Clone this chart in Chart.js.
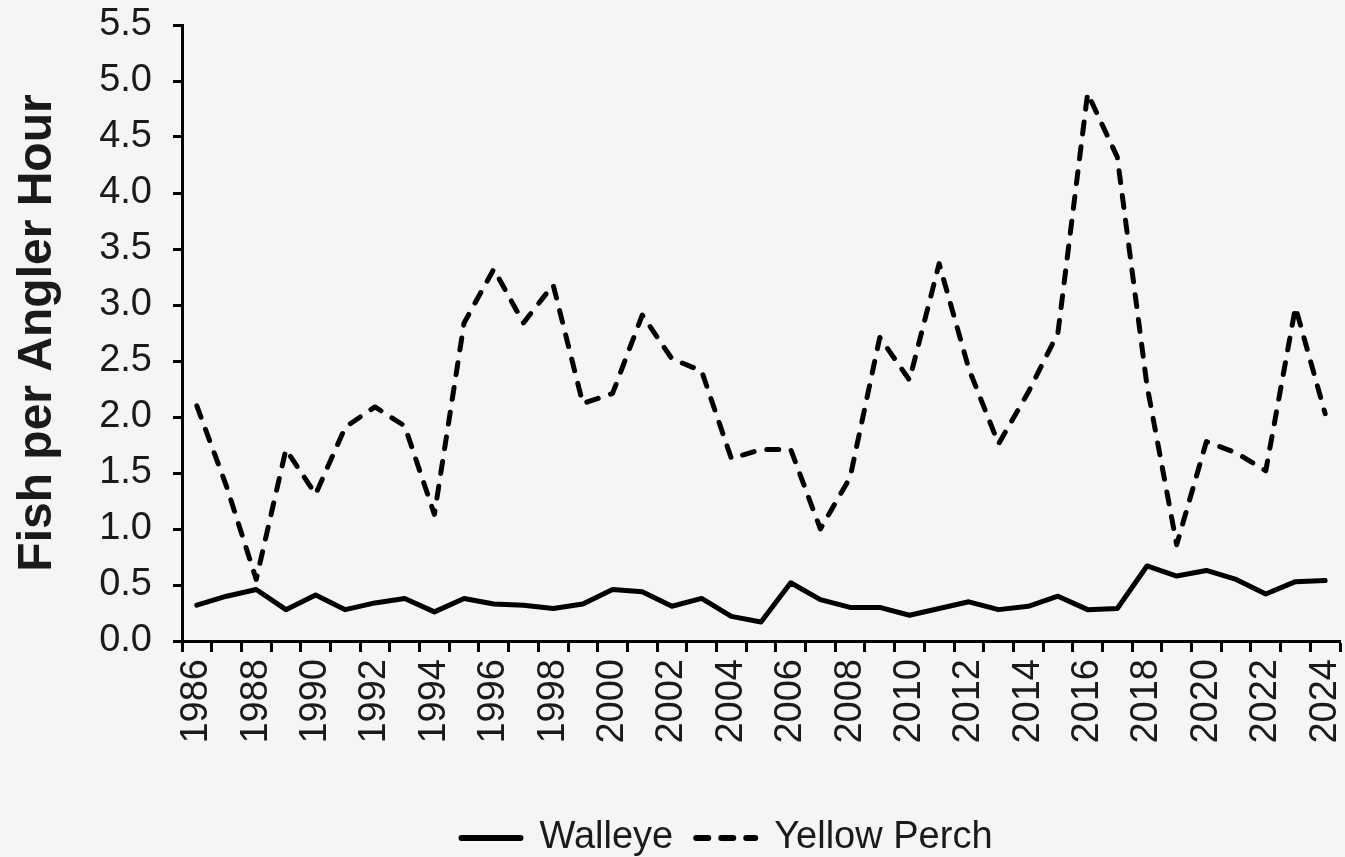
<!DOCTYPE html>
<html>
<head>
<meta charset="utf-8">
<script src="https://cdn.jsdelivr.net/npm/chart.js@4"></script>
<style>
  html, body { margin: 0; padding: 0; background: #f5f5f5; }
  #wrap { width: 1345px; height: 857px; }
</style>
</head>
<body>
<div id="wrap"><canvas id="c" width="1345" height="857"></canvas></div>
<script>
const years = [1986,1987,1988,1989,1990,1991,1992,1993,1994,1995,1996,1997,1998,1999,2000,2001,2002,2003,2004,2005,2006,2007,2008,2009,2010,2011,2012,2013,2014,2015,2016,2017,2018,2019,2020,2021,2022,2023,2024];
const walleye = [0.32,0.40,0.46,0.28,0.41,0.28,0.34,0.38,0.26,0.38,0.33,0.32,0.29,0.33,0.46,0.44,0.31,0.38,0.22,0.17,0.52,0.37,0.30,0.30,0.23,0.29,0.35,0.28,0.31,0.40,0.28,0.29,0.67,0.58,0.63,0.55,0.42,0.53,0.54];
const yellowPerch = [2.10,1.38,0.55,1.71,1.31,1.91,2.09,1.92,1.13,2.84,3.32,2.84,3.18,2.12,2.21,2.91,2.52,2.41,1.63,1.71,1.71,1.00,1.46,2.71,2.33,3.37,2.43,1.76,2.22,2.75,4.89,4.32,2.28,0.86,1.78,1.68,1.52,2.98,2.03];
const yTicks = [0,0.5,1,1.5,2,2.5,3,3.5,4,4.5,5,5.5];
const seriesNames = ['Walleye','Yellow Perch'];
const yTitle = 'Fish per Angler Hour';

const FONT = '"Liberation Sans", Arial, sans-serif';
const TXT = '#1a1a1a';

const legendShift = {
  id: 'legendShift',
  afterLayout(chart) {
    if (chart.legend) { chart.legend.left -= 34; chart.legend.right -= 34; }
  }
};

new Chart(document.getElementById('c'), {
  type: 'line',
  plugins: [legendShift],
  data: {
    labels: years.map(String),
    datasets: [
      { label: seriesNames[0], data: walleye, borderColor: '#000', backgroundColor: '#000',
        borderWidth: 5, pointRadius: 0, tension: 0, borderCapStyle: 'round', borderJoinStyle: 'round' },
      { label: seriesNames[1], data: yellowPerch, borderColor: '#000', backgroundColor: '#000',
        borderWidth: 5, borderDash: [12, 13], pointRadius: 0, tension: 0, borderCapStyle: 'round', borderJoinStyle: 'round' }
    ]
  },
  options: {
    responsive: false,
    animation: false,
    layout: { padding: { top: 25, right: 5, left: 0, bottom: -10 } },
    plugins: {
      tooltip: { enabled: false },
      legend: {
        position: 'bottom',
        fullSize: false,
        labels: {
          usePointStyle: true,
          pointStyle: 'line',
          pointStyleWidth: 59,
          boxHeight: 6,
          padding: 23,
          color: TXT,
          font: { family: FONT, size: 38 },
          generateLabels(chart) {
            const items = Chart.defaults.plugins.legend.labels.generateLabels(chart);
            items.forEach((it, i) => {
              const ds = chart.data.datasets[i];
              it.lineDash = ds.borderDash || [];
              it.lineWidth = 6;
              it.lineCap = 'round';
              it.strokeStyle = '#000';
              it.fillStyle = '#000';
              it.pointStyle = 'line';
            });
            return items;
          }
        }
      }
    },
    scales: {
      x: {
        type: 'category',
        offset: true,
        grid: { offset: true, drawOnChartArea: false, drawTicks: true, tickLength: 11, tickWidth: 3, tickColor: '#000' },
        border: { display: true, color: '#000', width: 3 },
        ticks: {
          autoSkip: false, maxRotation: 90, minRotation: 90, padding: 7,
          color: TXT, font: { family: FONT, size: 38 },
          callback: function(v, i) { const y = years[i]; return (y % 2 === 0) ? String(y) : ''; }
        },
        afterFit: function(s) { s.height = 155; s.paddingLeft = 0; s.paddingRight = 0; }
      },
      y: {
        min: 0, max: 5.5,
        afterBuildTicks: function(s) { s.ticks = yTicks.map(v => ({ value: v })); },
        grid: { drawOnChartArea: false, drawTicks: true, tickLength: 9, tickWidth: 3, tickColor: '#000' },
        border: { display: true, color: '#000', width: 3 },
        ticks: { padding: 21, color: TXT, font: { family: FONT, size: 38 },
          callback: function(v) { return Number(v).toFixed(1); } },
        title: { display: true, text: yTitle, color: TXT, padding: { top: 9, bottom: 0 },
          font: { family: FONT, size: 48, weight: 'bold' } },
        afterFit: function(s) { s.width = 182; s.paddingTop = 0; s.paddingBottom = 0; }
      }
    }
  }
});
</script>
</body>
</html>
